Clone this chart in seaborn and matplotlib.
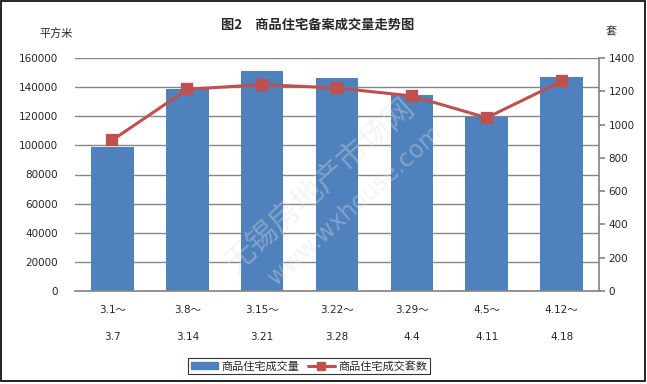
import matplotlib
matplotlib.use("Agg")
import matplotlib.pyplot as plt
import matplotlib.patches as mpatches
from matplotlib.lines import Line2D
import seaborn as sns
import pandas as pd

periods_start = ["3.1～", "3.8～", "3.15～", "3.22～", "3.29～", "4.5～", "4.12～"]
periods_end = ["3.7", "3.14", "3.21", "3.28", "4.4", "4.11", "4.18"]
area = [99000, 138700, 151000, 146300, 134800, 119700, 147000]
units = [907, 1212, 1240, 1220, 1172, 1041, 1260]
left_ticks = [0, 20000, 40000, 60000, 80000, 100000, 120000, 140000, 160000]
right_ticks = [0, 200, 400, 600, 800, 1000, 1200, 1400]

title = "图2　商品住宅备案成交量走势图"
left_unit = "平方米"
right_unit = "套"
bar_name = "商品住宅成交量"
line_name = "商品住宅成交套数"

sns.set_theme(style="white")
plt.rcParams['font.family'] = ['DejaVu Sans', 'Noto Sans CJK SC']

labels = [f"{a}\n\n{b}" for a, b in zip(periods_start, periods_end)]
df = pd.DataFrame({"period": labels, "area": area, "units": units})

bar_color = "#4F81BD"
line_color = "#C0504D"
grid_color = "#868686"

fig = plt.figure(figsize=(6.47, 3.84), dpi=100)
ax = fig.add_axes([75/647, 1 - 291/384, (599-75)/647, (291-58)/384])

sns.barplot(data=df, x="period", y="area", ax=ax, color=bar_color, width=0.57,
            saturation=1, linewidth=0, edgecolor=bar_color, zorder=2)
ax.set_ylim(0, 160000)
ax.set_yticks(left_ticks)
ax.set_yticklabels([str(t) for t in left_ticks], fontsize=7.5)
ax.yaxis.grid(True, color=grid_color, linewidth=1, zorder=0)
ax.set_axisbelow(True)
ax.set_xlabel("")
ax.set_ylabel("")
ax.tick_params(axis="x", length=0, pad=10, labelsize=7.5)
ax.tick_params(axis="y", length=0, pad=12)
for lab in ax.get_xticklabels():
    lab.set_linespacing(1.45)
for s in ["top", "left", "right"]:
    ax.spines[s].set_visible(False)
ax.spines["bottom"].set_color(grid_color)

ax2 = ax.twinx()
sns.pointplot(data=df, x="period", y="units", ax=ax2, color=line_color,
              markers="s", markersize=7, linewidth=2.2, zorder=3)
ax2.set_ylim(0, 1400)
ax2.set_yticks(right_ticks)
ax2.set_yticklabels([str(t) for t in right_ticks], fontsize=7.5)
ax2.set_ylabel("")
ax2.tick_params(axis="y", length=4, color=grid_color, direction="out", pad=3, right=True)
for s in ["top", "left", "bottom"]:
    ax2.spines[s].set_visible(False)
ax2.spines["right"].set_color(grid_color)
ax.set_xlim(-0.5, len(labels) - 0.5)

fig.text(318/647, 1 - 25/384, title, ha="center", va="center", fontsize=9.5,
         fontweight="bold", family=['Noto Sans CJK SC', 'DejaVu Sans'])
fig.text(56/647, 1 - 33/384, left_unit, ha="center", va="center", fontsize=8,
         family=['Noto Sans CJK SC'])
fig.text(611/647, 1 - 32/384, right_unit, ha="center", va="center", fontsize=8,
         family=['Noto Sans CJK SC'])

# faint watermark
fig.text(320/647, 1 - 185/384, "无锡房地产市场网", rotation=42, ha="center", va="center",
         fontsize=22, color="#e0e0e0", alpha=0.35, family=['Noto Sans CJK SC'], zorder=5)
fig.text(355/647, 1 - 205/384, "www.wxhouse.com", rotation=42, ha="center", va="center",
         fontsize=17, color="#e0e0e0", alpha=0.35, zorder=5)

handles = [mpatches.Rectangle((0, 0), 1, 1, color=bar_color),
           Line2D([0], [0], color=line_color, marker="s", markersize=6, linewidth=2.2)]
leg = fig.legend(handles, [bar_name, line_name], loc="center",
                 bbox_to_anchor=(309/647, 1 - 366/384), ncol=2,
                 frameon=True, fancybox=False, edgecolor="black", handlelength=2.4,
                 handleheight=0.5, columnspacing=0.8, handletextpad=0.3,
                 borderpad=0.25, prop={'family': ['Noto Sans CJK SC'], 'size': 8})
leg.get_frame().set_linewidth(0.8)

fig.patches.append(mpatches.Rectangle((1/647, 3/384), 644/647, 380/384, transform=fig.transFigure,
                                      fill=False, edgecolor="black", linewidth=1.2))

fig.savefig("out.png", dpi=100)
